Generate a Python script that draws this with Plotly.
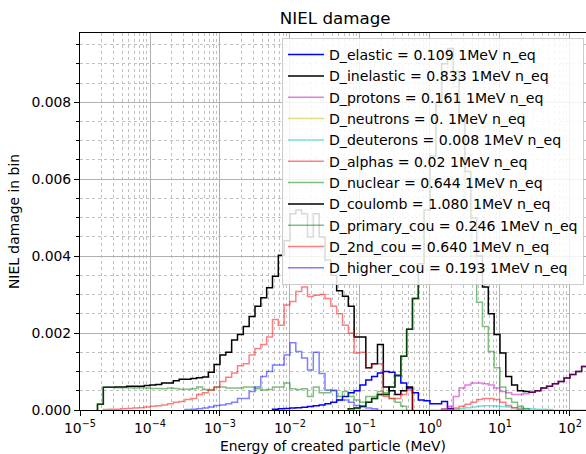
import numpy as np
import plotly.graph_objects as go

# ---- binning: log-spaced bins, 12 per decade starting at 1e-5 MeV ----
BINS_PER_DECADE = 12
E_MIN_EXP = -5
N_EDGES = 89
edges = 10.0 ** (E_MIN_EXP + np.arange(N_EDGES) / BINS_PER_DECADE)

# ---- series values (NIEL damage in bin), each with its first bin index ----
elastic_start = 33
elastic = [0.00002, 0.00003, 0.00004, 0.00005, 0.00006, 0.00007, 0.00009, 0.00011,
           0.00013, 0.00016, 0.0002, 0.00026, 0.00035, 0.00045, 0.0005, 0.00065,
           0.00078, 0.00087, 0.00096, 0.001, 0.00098, 0.0009, 0.0007, 0.00057,
           0.00045, 0.00026, 0.00024, 0.00016, 0.00016, 0.00022, 0.00004]

inelastic_start = 46
inelastic = [0.00003, 0.00005, 0.0001, 0.0002, 0.0003, 0.0004, 0.0004, 0.0006,
             0.0009, 0.0014, 0.0021, 0.0029, 0.0038, 0.0052, 0.0066, 0.0080,
             0.0090, 0.0094, 0.0088, 0.0075, 0.0062, 0.0050, 0.0040, 0.0032,
             0.0025, 0.00196, 0.00148, 0.00087, 0.00065, 0.0005, 0.00048, 0.00046,
             0.0005, 0.00057, 0.00062, 0.00068, 0.00074, 0.00083, 0.00092, 0.001,
             0.00113, 0.00122]

protons_start = 62
protons = [0.00003, 0.0001, 0.00035, 0.00057, 0.00065, 0.0007, 0.0007, 0.00068,
           0.00065, 0.00057, 0.00048, 0.00045, 0.0004, 0.0004, 0.00042, 0.00046,
           0.0005, 0.00057, 0.00062, 0.00068, 0.00074, 0.00083, 0.00092, 0.001,
           0.00113, 0.00122]

neutrons_start = 46
neutrons = [0.0] * 42

deuterons_start = 64
deuterons = [0.00002, 0.00004, 0.00006, 0.00008, 0.0001, 0.00011, 0.00011, 0.0001,
             0.00009, 0.00008, 0.00006, 0.00005, 0.00004, 0.00003, 0.00002, 0.00002,
             0.00001]

alphas_start = 62
alphas = [0.00001, 0.00002, 0.00005, 0.0001, 0.00015, 0.0002, 0.00027, 0.0003,
          0.0003, 0.00027, 0.0002, 0.00012, 0.00006, 0.00002]

nuclear_start = 46
nuclear = [0.00003, 0.00005, 0.0001, 0.0002, 0.0003, 0.0004, 0.0004, 0.0006,
           0.0009, 0.0014, 0.0021, 0.0029, 0.0038, 0.0052, 0.0066, 0.0079,
           0.0088, 0.0091, 0.0084, 0.0070, 0.0052, 0.0040, 0.0028, 0.00217,
           0.00152, 0.0011, 0.0006, 0.0003, 0.0002, 0.0001, 0.00003]

coulomb_start = 3
coulomb = [0.00015,
           0.00059, 0.00059, 0.0006, 0.0006, 0.00062, 0.00062, 0.00062,
           0.00064, 0.00065, 0.00066, 0.0007, 0.0007, 0.00076, 0.0008, 0.0008,
           0.00082, 0.00084, 0.00086, 0.00098, 0.00118, 0.00143, 0.0015, 0.00182,
           0.00196, 0.00217, 0.00243, 0.0027, 0.00292, 0.00318, 0.00348, 0.00402,
           0.0044, 0.0051, 0.0052, 0.0051, 0.0045, 0.0051, 0.0045, 0.0039,
           0.0035, 0.0031, 0.00296, 0.0027, 0.0019, 0.0019, 0.0011, 0.0012,
           0.0017, 0.0006, 0.0005, 0.0004, 0.0005, 0.0006]

primary_cou_start = 3
primary_cou = [0.00015,
               0.00059, 0.00059, 0.00058, 0.00058, 0.00058, 0.00057, 0.00058,
               0.00057, 0.00056, 0.00056, 0.00055, 0.00057, 0.00056, 0.00054, 0.00054,
               0.00055, 0.0006, 0.00053, 0.00052, 0.0006, 0.0006, 0.00057, 0.00057,
               0.00057, 0.0006, 0.0006, 0.00055, 0.00052, 0.00053, 0.0006, 0.0006,
               0.0007, 0.00055, 0.00053, 0.00055, 0.00035, 0.0006, 0.00045, 0.00045,
               0.00052, 0.00035, 0.00048, 0.00035, 0.00026, 0.0002, 0.00035, 0.00035,
               0.00048, 0.00045, 0.0003, 0.0002, 0.0001]

second_cou_start = 4
second_cou = [0.00001, 0.00002, 0.00002, 0.00003, 0.00004, 0.00005, 0.00006, 0.00008,
              0.0001, 0.00011, 0.00013, 0.00016, 0.0002, 0.00022, 0.00027, 0.0003,
              0.0004, 0.00045, 0.00052, 0.0006, 0.00074, 0.00085, 0.00096, 0.00115,
              0.0012, 0.00143, 0.0016, 0.0017, 0.0019, 0.00235, 0.0022, 0.00273,
              0.00282, 0.00308, 0.0032, 0.00295, 0.00298, 0.003, 0.0029, 0.0027,
              0.0025, 0.0022, 0.002, 0.00148, 0.0015, 0.0011, 0.0012, 0.0012,
              0.00035, 0.0003, 0.0003, 0.0004, 0.00052]

higher_cou_start = 18
higher_cou = [0.00001, 0.00002, 0.00003, 0.00005, 0.00008, 0.00012, 0.00013, 0.00016,
              0.0002, 0.0003, 0.0003, 0.00048, 0.0006, 0.00087, 0.001, 0.00117,
              0.00117, 0.00143, 0.00175, 0.00152, 0.00135, 0.00104, 0.0015, 0.00095,
              0.00052, 0.0005, 0.00026, 0.00026, 0.0002, 0.00012, 0.00008, 0.00005,
              0.00003]

labels = ["D_elastic = 0.109 1MeV n_eq", "D_inelastic = 0.833 1MeV n_eq",
          "D_protons = 0.161 1MeV n_eq", "D_neutrons = 0. 1MeV n_eq",
          "D_deuterons = 0.008 1MeV n_eq", "D_alphas = 0.02 1MeV n_eq",
          "D_nuclear = 0.644 1MeV n_eq", "D_coulomb = 1.080 1MeV n_eq",
          "D_primary_cou = 0.246 1MeV n_eq", "D_2nd_cou = 0.640 1MeV n_eq",
          "D_higher_cou = 0.193 1MeV n_eq"]

series = [(elastic_start, elastic), (inelastic_start, inelastic),
          (protons_start, protons), (neutrons_start, neutrons),
          (deuterons_start, deuterons), (alphas_start, alphas),
          (nuclear_start, nuclear), (coulomb_start, coulomb),
          (primary_cou_start, primary_cou), (second_cou_start, second_cou),
          (higher_cou_start, higher_cou)]

colors = ["rgb(0,0,255)", "rgb(0,0,0)", "rgba(191,0,191,0.5)", "rgba(191,191,0,0.5)",
          "rgba(0,191,191,0.5)", "rgba(255,0,0,0.5)", "rgba(0,128,0,0.5)",
          "rgb(0,0,0)", "rgba(0,128,0,0.5)", "rgba(255,0,0,0.5)", "rgba(0,0,255,0.5)"]

fig = go.Figure()
for k, ((start, vals), lab, col) in enumerate(zip(series, labels, colors)):
    n = len(vals)
    e = edges[start:start + n + 1]
    xs = [e[0]] + list(e)
    ys = [0.0] + list(vals) + [0.0]
    fig.add_trace(go.Scatter(x=xs, y=ys, mode="lines", line=dict(shape="hv", color=col, width=1.5),
                             name=lab, legendgroup="g%d" % k))

FONT = "DejaVu Sans"
xt = [10.0 ** p for p in range(-5, 3)]
xtt = ["10<sup>\u2212%d</sup>" % (-p) if p < 0 else "10<sup>%d</sup>" % p for p in range(-5, 3)]
xminor = [m * 10.0 ** p for p in range(-5, 3) for m in range(2, 10)]

fig.update_layout(
    width=586, height=454,
    margin=dict(l=80, r=0, t=33, b=44),
    paper_bgcolor="white", plot_bgcolor="white",
    font=dict(family=FONT, size=13.9, color="black"),
    title=dict(text="NIEL damage", x=0.572, xref="container", xanchor="center",
               y=1 - 18 / 454, yref="container", yanchor="middle",
               font=dict(family=FONT, size=16.7, color="black")),
    showlegend=True,
    legend=dict(x=0.996, y=0.987, xanchor="right", yanchor="top",
                bgcolor="rgba(255,255,255,0.85)", bordercolor="#cccccc", borderwidth=1,
                font=dict(family=FONT, size=14.1), tracegroupgap=0,
                traceorder="grouped", itemwidth=36),
    xaxis=dict(type="log", range=[-5, 2.229], tickvals=xt, ticktext=xtt,
               automargin=False,
               showline=True, linecolor="black", linewidth=1, mirror=True,
               ticks="outside", ticklen=5, tickwidth=1, tickcolor="black",
               showgrid=True, gridcolor="#b0b0b0", gridwidth=1,
               minor=dict(tickvals=xminor, ticks="outside", ticklen=3, tickcolor="black",
                          showgrid=True, gridcolor="#c0c0c0", griddash="dot", gridwidth=0.8),
               zeroline=False),
    yaxis=dict(range=[0, 0.0098], tickvals=[0, 0.002, 0.004, 0.006, 0.008],
               ticktext=["0.000", "0.002", "0.004", "0.006", "0.008"],
               automargin=False,
               showline=True, linecolor="black", linewidth=1, mirror=True,
               ticks="outside", ticklen=5, tickwidth=1, tickcolor="black",
               showgrid=True, gridcolor="#b0b0b0", gridwidth=1,
               minor=dict(dtick=0.0005, tick0=0, ticks="outside", ticklen=3, tickcolor="black",
                          showgrid=True, gridcolor="#c0c0c0", griddash="dot", gridwidth=0.8),
               title=dict(text="NIEL damage in bin", standoff=8,
                          font=dict(family=FONT, size=13.9)),
               zeroline=False),
    annotations=[dict(text="Energy of created particle (MeV)", xref="paper", yref="paper",
                      x=0.5, y=-(446 - 410) / 377, xanchor="center", yanchor="middle",
                      showarrow=False, font=dict(family=FONT, size=13.9, color="black"))],
)

fig.write_html("out.html")
